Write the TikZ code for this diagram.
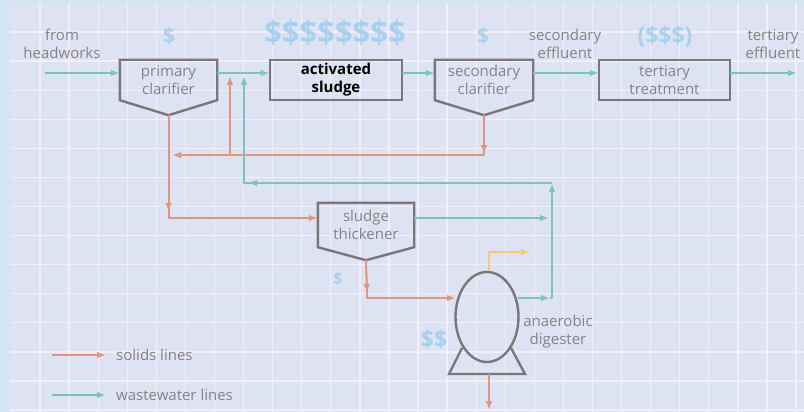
\documentclass[tikz,border=0pt]{standalone}
\usepackage{fontspec}
\setmainfont{Open Sans}
\usetikzlibrary{arrows.meta,calc,shapes.geometric}
\definecolor{outerbg}{HTML}{D4E4F2}
\definecolor{panelbg}{HTML}{DDE3F3}
\definecolor{gridc}{HTML}{F3EEF7}
\definecolor{boxc}{HTML}{7B7678}
\definecolor{txtc}{HTML}{878385}
\definecolor{tealc}{HTML}{7CC3BF}
\definecolor{orangec}{HTML}{E0967C}
\definecolor{yellowc}{HTML}{FDC673}
\definecolor{dollarc}{HTML}{A9D0EC}
\tikzset{
  lbl/.style={text=txtc, font=\fontsize{15}{18}\selectfont, align=center, inner sep=0pt},
  unitbox/.style={draw=none, inner sep=0pt, text=txtc, font=\fontsize{15}{18}\selectfont, align=center},
  outline/.style={draw=boxc, line width=2.4pt, line join=miter},
  wline/.style={draw=tealc, line width=2pt, -{Latex[length=9pt,width=6.5pt]}},
  sline/.style={draw=orangec, line width=2pt, -{Latex[length=9pt,width=6.5pt]}},
  gline/.style={draw=yellowc, line width=2pt, -{Latex[length=9pt,width=6.5pt]}},
  plainw/.style={draw=tealc, line width=2pt},
  plains/.style={draw=orangec, line width=2pt},
  cost/.style={text=dollarc, font=\bfseries, inner sep=0pt}
}
\begin{document}
\begin{tikzpicture}[x=1pt,y=-1pt]
\useasboundingbox (0,0) rectangle (804,412);
\fill[outerbg] (0,0) rectangle (804,412);
\fill[panelbg] (10,3) rectangle (804,412);
\foreach \k in {0,...,26} {\draw[gridc, line width=1.3pt] ({40+29.08*\k},3) -- ({40+29.08*\k},412);}
\foreach \k in {0,...,13} {\draw[gridc, line width=1.3pt] (10,{32+29.08*\k}) -- (804,{32+29.08*\k});}

% process units
\node[unitbox, minimum width=97pt, minimum height=40pt] (pc) at (168.5,80) {primary\\clarifier};
\node[unitbox, minimum width=132pt, minimum height=40pt, text=black, font=\fontsize{15}{18}\selectfont\bfseries] (as) at (336,80) {activated\\sludge};
\node[unitbox, minimum width=98pt, minimum height=40pt] (sc) at (484,80) {secondary\\clarifier};
\node[unitbox, minimum width=131pt, minimum height=40pt] (tt) at (664.5,80) {tertiary\\treatment};
\node[unitbox, minimum width=96pt, minimum height=44pt] (th) at (366,225) {sludge\\thickener};
\node[draw=boxc, line width=2.4pt, ellipse, minimum width=63pt, minimum height=90pt, inner sep=0pt] (dg) at (487,317) {};

\coordinate (pcv) at ($(pc.south)+(0,15)$);
\coordinate (scv) at ($(sc.south)+(0,15)$);
\coordinate (thv) at ($(th.south)+(0,13)$);

\draw[outline] (pc.south west) -- (pc.north west) -- (pc.north east) -- (pc.south east) -- (pcv) -- cycle;
\draw[outline] (as.south west) rectangle (as.north east);
\draw[outline] (sc.south west) -- (sc.north west) -- (sc.north east) -- (sc.south east) -- (scv) -- cycle;
\draw[outline] (tt.south west) rectangle (tt.north east);
\draw[outline] (th.south west) -- (th.north west) -- (th.north east) -- (th.south east) -- (thv) -- cycle;
\coordinate (stl) at (449,374);
\coordinate (str) at (525,374);
\coordinate (dgb) at (489,374);
\draw[outline] (462,348) -- (stl) -- (str) -- (511,348);

% labels
\node[lbl] (fh) at (62,44) {from\\headworks};
\node[lbl] (se) at (565,44) {secondary\\effluent};
\node[lbl] (te) at (773,44) {tertiary\\effluent};
\node[lbl] (ad) at (558,332) {anaerobic\\digester};

% costs
\node[cost, font=\fontsize{21}{21}\selectfont\bfseries] (c1) at (169,36) {\$};
\node[cost, font=\fontsize{31}{31}\selectfont\bfseries] (c2) at (335,33) {\$\$\$\$\$\$\$\$};
\node[cost, font=\fontsize{21}{21}\selectfont\bfseries] (c3) at (483,36) {\$};
\node[cost, font=\fontsize{23}{23}\selectfont\bfseries] (c4) at (665,37) {(\$\$\$)};
\node[cost, font=\fontsize{16}{16}\selectfont\bfseries] (c5) at (338,279) {\$};
\node[cost, font=\fontsize{23}{23}\selectfont\bfseries] (c6) at (434,339) {\$\$};

% main wastewater line
\coordinate (ly) at (0,73);
\coordinate (inl) at (45,73);
\coordinate (outl) at (797,73);
\draw[wline] (inl) -- (pc.west |- ly);
\draw[wline] (pc.east |- ly) -- (as.west |- ly);
\draw[wline] (as.east |- ly) -- (sc.west |- ly);
\draw[wline] (sc.east |- ly) -- (tt.west |- ly);
\draw[wline] (tt.east |- ly) -- (outl);

% recycle from secondary clarifier
\coordinate (r1) at (484,155);
\coordinate (r2) at (172,155);
\coordinate (r3) at (230,155);
\coordinate (r4) at (230,76);
\draw[plains] (scv) -- (r1);
\draw[sline] (scv) -- (484,154);
\draw[sline] (r1) -- (r2);
\draw[sline] (r3) -- (r4);

% primary sludge to thickener
\coordinate (p1) at (168.5,218);
\coordinate (thin) at (th.west |- p1);
\draw[sline] (pcv) -- (168.5,212);
\draw[sline] (168.5,205) |- (thin);

% return wastewater
\coordinate (w1) at (552,298);
\coordinate (w2) at (552,183);
\coordinate (w3) at (244,183);
\coordinate (w4) at (244,76);
\coordinate (dgo) at (518,298);
\draw[wline] (dgo) -- (550,298);
\draw[plainw] (550,298) -- (w1);
\draw[wline] (w1) -- (w2);
\draw[wline] (w2) -- (w3) -- (w4);
\draw[wline] (262,183) -- (248,183);
\coordinate (the) at (th.east |- p1);
\draw[wline] (the) -- (549,218);

% thickened sludge to digester
\coordinate (t1) at (367,298);
\coordinate (dgi) at (456,298);
\draw[sline] (thv) -- (367,293);
\draw[sline] (367,286) -- (t1) -- (dgi);
\coordinate (dgout) at (489,410);
\draw[sline] (dgb) -- (dgout);

% gas
\coordinate (g1) at (489,252);
\coordinate (g2) at (530,252);
\draw[gline] (dg.north -| g1) -- (g1) -- (g2);

% legend
\coordinate (l1a) at (52,355);
\coordinate (l1b) at (106,355);
\coordinate (l2a) at (52,395);
\coordinate (l2b) at (106,395);
\draw[sline] (l1a) -- (l1b);
\draw[wline] (l2a) -- (l2b);
\node[lbl, anchor=west] (sl) at (116,355) {solids lines};
\node[lbl, anchor=west] (wl) at (116,395) {wastewater lines};
\end{tikzpicture}
\end{document}
